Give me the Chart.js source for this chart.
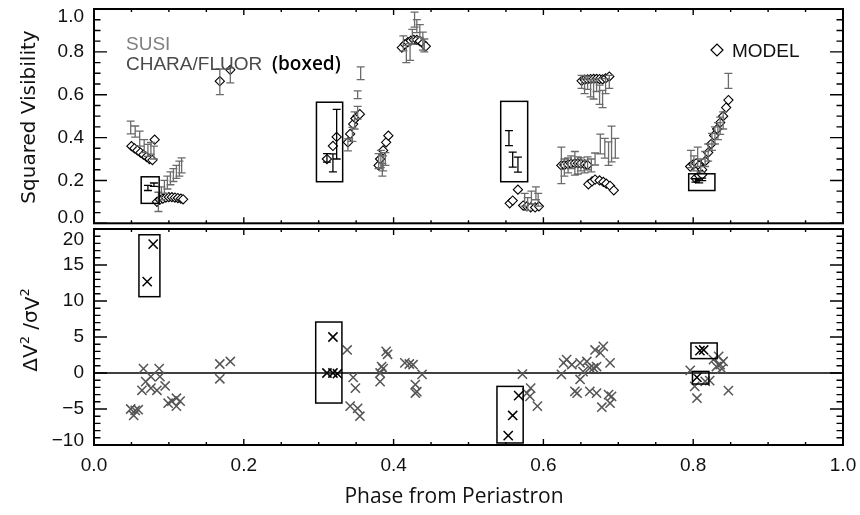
<!DOCTYPE html>
<html>
<head>
<meta charset="utf-8">
<script src="https://cdn.jsdelivr.net/npm/chart.js@4.4.0/dist/chart.umd.min.js"></script>
<style>
  html, body { margin: 0; padding: 0; background: #fff; }
  #wrap { position: relative; width: 860px; height: 515px; }
  #topPanel { position: absolute; left: 0; top: 0; }
  #botPanel { position: absolute; left: 0; top: 220px; }
</style>
</head>
<body>
<div id="wrap">
  <canvas id="topPanel" width="860" height="229"></canvas>
  <canvas id="botPanel" width="860" height="295"></canvas>
</div>
<script>
// tick labels
const phaseTicks = [0, 0.2, 0.4, 0.6, 0.8, 1.0];
const visTicks = [0, 0.2, 0.4, 0.6, 0.8, 1.0];
const resTicks = [-10, -5, 0, 5, 10, 15, 20];

// SUSI measurements (grey error bars)
const susiPhase = [0.049,0.055,0.061,0.067,0.072,0.076,0.080, 0.086,0.090,0.094,0.098,0.102,0.106,0.110,0.114,0.117,
  0.168,0.182, 0.339,0.345,0.348,0.352,0.352,0.356, 0.380,0.383,0.385,0.386,0.389,
  0.413,0.417,0.422,0.425,0.428,0.431,0.435,0.439,0.441, 0.575,0.579,0.584,0.590,0.593,
  0.624,0.628,0.633,0.637,0.642,0.646,0.650,0.655,0.659,
  0.651,0.655,0.659,0.663,0.667,0.671,0.675,0.679,0.683,0.688,
  0.664,0.669,0.676,0.682,0.687,0.691,0.696,
  0.797,0.801,0.806,0.810,0.816,0.820,0.825,0.829,0.833,0.836,0.840,0.847];
const susiV2 = [0.447,0.428,0.395,0.36,0.34,0.35,0.33, 0.10,0.14,0.17,0.19,0.21,0.225,0.24,0.255,0.27,
  0.66,0.69, 0.366,0.415,0.48,0.516,0.60,0.70, 0.29,0.30,0.25,0.28,0.30,
  0.84,0.79,0.80,0.87,0.95,0.92,0.897,0.85,0.83, 0.11,0.09,0.12,0.14,0.11,
  0.27,0.26,0.27,0.285,0.28,0.27,0.275,0.265,0.28,
  0.66,0.64,0.655,0.63,0.62,0.645,0.60,0.58,0.64,0.66,
  0.27,0.30,0.37,0.35,0.325,0.37,0.35,
  0.30,0.28,0.31,0.27,0.30,0.33,0.38,0.41,0.43,0.455,0.48,0.665];
const susiErr = [0.03,0.026,0.035,0.03,0.028,0.027,0.03, 0.045,0.03,0.03,0.03,0.03,0.03,0.03,0.035,0.035,
  0.06,0.035, 0.028,0.033,0.04,0.03,0.018,0.03, 0.035,0.04,0.03,0.035,0.03,
  0.035,0.04,0.04,0.035,0.035,0.03,0.03,0.042,0.03, 0.03,0.03,0.03,0.03,0.03,
  0.085,0.04,0.035,0.03,0.055,0.04,0.03,0.03,0.03,
  0.03,0.035,0.03,0.04,0.04,0.03,0.045,0.04,0.035,0.03,
  0.03,0.028,0.046,0.046,0.055,0.083,0.046,
  0.04,0.035,0.045,0.03,0.035,0.04,0.04,0.04,0.04,0.04,0.04,0.035];

// CHARA/FLUOR measurements (black error bars, boxed)
const charaPhase = [0.072,0.080, 0.311,0.319,0.324, 0.554,0.559,0.566, 0.803,0.808,0.812];
const charaV2 = [0.165,0.18, 0.305,0.282,0.416, 0.397,0.297,0.274, 0.20,0.195,0.205];
const charaErr = [0.012,0.008, 0.02,0.042,0.116, 0.035,0.035,0.035, 0.008,0.006,0.006];

// model visibilities (diamonds)
const modelPhase = [0.050,0.054,0.058,0.062,0.066,0.070,0.074,0.078,0.081,
  0.084,0.088,0.092,0.096,0.100,0.104,0.108,0.112,0.116,0.119,
  0.168,0.182, 0.311,0.319,0.324, 0.339,0.342,0.346,0.349,0.352,0.355,
  0.380,0.382,0.386,0.390,0.393,
  0.411,0.415,0.419,0.423,0.427,0.431,0.435,0.439,0.443,
  0.555,0.559,0.566, 0.573,0.578,0.583,0.589,0.594,
  0.624,0.628,0.633,0.637,0.642,0.646,0.650,0.655,0.659,
  0.651,0.655,0.659,0.663,0.667,0.671,0.675,0.679,0.683,0.688,
  0.660,0.665,0.669,0.675,0.680,0.684,0.689,0.694,
  0.796,0.800,0.804,0.808,0.812,0.816,0.820,0.824,0.828,0.832,0.836,0.840,0.844,0.847,
  0.803,0.808,0.812];
const modelV2 = [0.36,0.35,0.34,0.33,0.32,0.31,0.30,0.295,0.39,
  0.10,0.11,0.115,0.12,0.122,0.122,0.12,0.118,0.115,0.112,
  0.663,0.716, 0.30,0.361,0.403, 0.378,0.417,0.463,0.489,0.501,0.509,
  0.27,0.30,0.34,0.378,0.409,
  0.82,0.835,0.845,0.852,0.856,0.856,0.85,0.84,0.826,
  0.093,0.106,0.157, 0.083,0.079,0.074,0.074,0.079,
  0.27,0.272,0.275,0.278,0.28,0.28,0.278,0.275,0.272,
  0.665,0.67,0.672,0.673,0.674,0.674,0.673,0.672,0.676,0.685,
  0.182,0.196,0.204,0.20,0.193,0.185,0.175,0.154,
  0.265,0.275,0.28,0.27,0.25,0.29,0.33,0.37,0.41,0.44,0.47,0.50,0.54,0.575,
  0.21,0.222,0.227];

// residuals dV2/sigma
const resSusiPhase = [0.049,0.053,0.055,0.059,0.066,0.087,0.076,0.088,0.069,0.076,0.064,0.084,0.095,0.099,0.104,0.110,0.115,0.110,
  0.168,0.168,0.182, 0.338,0.346,0.349,0.342,0.352,0.355, 0.382,0.382,0.384,0.386,0.390,0.392,
  0.415,0.421,0.426,0.429,0.431,0.429,0.438, 0.572,0.578,0.583,0.582,0.592,
  0.624,0.627,0.631,0.638,0.642,0.645,0.649,0.649,0.653,0.658,0.662,0.667,0.671,0.669,0.680,0.676,0.689,0.662,0.671,0.678,0.687,0.691,0.689,
  0.796,0.802,0.805,0.816,0.822,0.827,0.834,0.836,0.840,0.838,0.831,0.847];
const resSusi = [-5.0,-5.9,-5.2,-5.1,0.6,0.6,-0.5,-0.5,-1.2,-2.1,-2.4,-2.4,-1.8,-4.2,-3.9,-3.5,-3.9,-4.6,
  -0.8,1.25,1.6, 3.2,-0.6,-2.1,-4.6,-4.9,-6.0, 0.0,-1.2,0.9,0.6,3.0,2.6,
  1.4,1.25,1.15,-1.6,-2.6,-2.8,-0.2, -0.15,-2.8,-2.1,-3.25,-4.6,
  -0.2,1.4,1.85,1.15,-2.55,-2.8,1.4,-0.9,0.2,1.6,0.7,0.7,0.9,3.2,3.7,2.8,1.4,-2.55,-2.8,-4.75,-3.0,-3.25,-4.2,
  0.37,-1.85,-3.5,-1.15,-1.05,1.85,2.3,1.15,1.6,0.6,0.9,-2.45];
const resCharaPhase = [0.079,0.071, 0.319,0.311,0.319,0.325, 0.567,0.559,0.553, 0.809,0.814,0.805];
const resChara = [17.9,12.7, 5.0,0.0,0.0,-0.1, -3.15,-5.9,-8.7, 3.1,3.2,-0.6];

// boxes round the CHARA points [phase0, phase1, y0, y1]
const visBoxes = [[0.063,0.087,0.093,0.217],[0.297,0.332,0.194,0.565],[0.543,0.579,0.194,0.569],[0.794,0.829,0.153,0.231]];
const resBoxes = [[0.060,0.088,10.6,19.2],[0.296,0.331,-4.17,7.08],[0.538,0.573,-9.72,-1.86],[0.797,0.832,2.0,4.17],[0.799,0.821,-1.53,0.22]];

const tickFont = '19px "Liberation Sans", Arial, sans-serif';

function steps(min, max, step) {
  const out = [];
  for (let v = min; v <= max + 1e-9; v += step) out.push(+v.toFixed(6));
  return out;
}

function drawFrame(chart, yTicks, yStep, fmt, padTop, padBot) {
  const { ctx, chartArea: a, scales: { x, y } } = chart;
  ctx.save();
  ctx.strokeStyle = '#000';
  ctx.lineWidth = 1.4;
  ctx.beginPath();
  steps(0, 1, 0.05).forEach(v => {
    const px = x.getPixelForValue(v);
    const len = phaseTicks.some(t => Math.abs(t - v) < 1e-6) ? 6 : 3;
    ctx.moveTo(px, a.top); ctx.lineTo(px, a.top + len);
    ctx.moveTo(px, a.bottom); ctx.lineTo(px, a.bottom - len);
  });
  steps(y.min, y.max, yStep).forEach(v => {
    const py = y.getPixelForValue(v);
    const len = yTicks.some(t => Math.abs(t - v) < 1e-6) ? 13 : 6.5;
    ctx.moveTo(a.left, py); ctx.lineTo(a.left + len, py);
    ctx.moveTo(a.right, py); ctx.lineTo(a.right - len, py);
  });
  ctx.stroke();
  ctx.lineWidth = 2;
  ctx.strokeRect(a.left, a.top, a.right - a.left, a.bottom - a.top);

  ctx.fillStyle = '#111';
  ctx.font = tickFont;
  ctx.textAlign = 'right';
  ctx.textBaseline = 'middle';
  yTicks.forEach(v => {
    let py = y.getPixelForValue(v);
    py = Math.min(Math.max(py, a.top + padTop), a.bottom - padBot);
    ctx.fillText(fmt(v), a.left - 10, py);
  });
  ctx.restore();
}

function drawBars(chart, px, py, pe, color) {
  const { ctx, chartArea: a, scales: { x, y } } = chart;
  ctx.save();
  ctx.beginPath();
  ctx.rect(a.left, a.top, a.right - a.left, a.bottom - a.top);
  ctx.clip();
  ctx.strokeStyle = color;
  ctx.lineWidth = 1.3;
  ctx.beginPath();
  px.forEach((p, i) => {
    const cx = x.getPixelForValue(p);
    const y0 = y.getPixelForValue(py[i] - pe[i]);
    const y1 = y.getPixelForValue(py[i] + pe[i]);
    ctx.moveTo(cx, y0); ctx.lineTo(cx, y1);
    ctx.moveTo(cx - 4, y0); ctx.lineTo(cx + 4, y0);
    ctx.moveTo(cx - 4, y1); ctx.lineTo(cx + 4, y1);
  });
  ctx.stroke();
  ctx.restore();
}

function drawBoxes(chart, boxes) {
  const { ctx, scales: { x, y } } = chart;
  ctx.save();
  ctx.strokeStyle = '#000';
  ctx.lineWidth = 1.5;
  boxes.forEach(b => {
    const x0 = x.getPixelForValue(b[0]), x1 = x.getPixelForValue(b[1]);
    const y0 = y.getPixelForValue(b[2]), y1 = y.getPixelForValue(b[3]);
    ctx.strokeRect(x0, y1, x1 - x0, y0 - y1);
  });
  ctx.restore();
}

const baseScales = (ymin, ymax) => ({
  x: { type: 'linear', min: 0, max: 1, display: false },
  y: { type: 'linear', min: ymin, max: ymax, display: false }
});

// top panel: squared visibility
new Chart(document.getElementById('topPanel'), {
  type: 'scatter',
  data: {
    datasets: [{
      label: 'MODEL',
      data: modelPhase.map((p, i) => ({ x: p, y: modelV2[i] })),
      pointStyle: 'rectRot',
      pointRadius: 4.6,
      borderColor: '#000',
      backgroundColor: '#fff',
      borderWidth: 1.1
    }]
  },
  options: {
    responsive: false,
    animation: false,
    events: [],
    layout: { padding: { left: 94, right: 17, top: 9, bottom: 4 } },
    scales: baseScales(0, 1),
    plugins: { legend: { display: false }, tooltip: { enabled: false } }
  },
  plugins: [{
    id: 'visDecor',
    afterDatasetsDraw(chart) {
      drawBars(chart, susiPhase, susiV2, susiErr, '#6b6b6b');
      drawBars(chart, charaPhase, charaV2, charaErr, '#000');
      drawBoxes(chart, visBoxes);
      drawFrame(chart, visTicks, 0.05, v => v.toFixed(1), 8, 6);

      const ctx = chart.ctx;
      ctx.save();
      ctx.font = '19px "Liberation Sans", Arial, sans-serif';
      ctx.textBaseline = 'alphabetic';
      ctx.textAlign = 'left';
      ctx.fillStyle = '#808080';
      ctx.fillText('SUSI', 126, 50);
      ctx.fillStyle = '#4a4a4a';
      ctx.fillText('CHARA/FLUOR', 126, 70);
      ctx.fillStyle = '#000';
      ctx.font = '600 19px "Open Sans", sans-serif';
      ctx.fillText('(boxed)', 272, 70);
      ctx.font = '19px "Liberation Sans", Arial, sans-serif';
      ctx.fillStyle = '#111';
      ctx.fillText('MODEL', 732, 57);
      ctx.strokeStyle = '#000';
      ctx.lineWidth = 1.2;
      ctx.beginPath();
      ctx.moveTo(711, 50); ctx.lineTo(717, 44); ctx.lineTo(723, 50); ctx.lineTo(717, 56); ctx.closePath();
      ctx.stroke();

      ctx.translate(30, 117);
      ctx.rotate(-Math.PI / 2);
      ctx.textAlign = 'center';
      ctx.textBaseline = 'middle';
      ctx.fillStyle = '#111';
      ctx.font = '20px "DejaVu Sans", sans-serif';
      ctx.fillText('Squared Visibility', 0, 0);
      ctx.restore();
    }
  }]
});

// bottom panel: residuals
new Chart(document.getElementById('botPanel'), {
  type: 'scatter',
  data: {
    datasets: [{
      label: 'SUSI',
      data: resSusiPhase.map((p, i) => ({ x: p, y: resSusi[i] })),
      pointStyle: 'crossRot',
      pointRadius: 6.5,
      borderColor: '#555',
      borderWidth: 1.5
    }, {
      label: 'CHARA/FLUOR',
      data: resCharaPhase.map((p, i) => ({ x: p, y: resChara[i] })),
      pointStyle: 'crossRot',
      pointRadius: 6.5,
      borderColor: '#000',
      borderWidth: 1.5
    }]
  },
  options: {
    responsive: false,
    animation: false,
    events: [],
    layout: { padding: { left: 94, right: 17, top: 9, bottom: 70 } },
    scales: baseScales(-10, 20),
    plugins: { legend: { display: false }, tooltip: { enabled: false } }
  },
  plugins: [{
    id: 'resDecor',
    beforeDatasetsDraw(chart) {
      const { ctx, chartArea: a, scales: { y } } = chart;
      const py = y.getPixelForValue(0);
      ctx.save();
      ctx.strokeStyle = '#000';
      ctx.lineWidth = 1.5;
      ctx.beginPath();
      ctx.moveTo(a.left, py); ctx.lineTo(a.right, py);
      ctx.stroke();
      ctx.restore();
    },
    afterDatasetsDraw(chart) {
      drawBoxes(chart, resBoxes);
      drawFrame(chart, resTicks, 1, v => (v < 0 ? '\u2212' + Math.abs(v) : String(v)), 11, 4);

      const { ctx, chartArea: a, scales: { x } } = chart;
      ctx.save();
      ctx.fillStyle = '#111';
      ctx.font = tickFont;
      ctx.textAlign = 'center';
      ctx.textBaseline = 'middle';
      phaseTicks.forEach(v => ctx.fillText(v.toFixed(1), x.getPixelForValue(v), a.bottom + 21));

      ctx.font = '21px "Open Sans", sans-serif';
      ctx.fillText('Phase from Periastron', 454, a.bottom + 52);

      // y title: dV^2 / sigma_V^2
      ctx.translate(30, 330 - 220);
      ctx.rotate(-Math.PI / 2);
      const big = '20px "DejaVu Sans", sans-serif';
      const small = '13px "DejaVu Sans", sans-serif';
      const parts = [['\u0394V', big, 0], ['2', small, -8], [' /', big, 0], ['\u03c3', big, 0], ['V', big, 2], ['2', small, -8]];
      let total = 0;
      parts.forEach(p => { ctx.font = p[1]; total += ctx.measureText(p[0]).width; });
      let cx = -total / 2;
      ctx.textAlign = 'left';
      ctx.textBaseline = 'alphabetic';
      parts.forEach(p => {
        ctx.font = p[1];
        ctx.fillText(p[0], cx, 7 + p[2]);
        cx += ctx.measureText(p[0]).width;
      });
      ctx.restore();
    }
  }]
});
</script>
</body>
</html>
